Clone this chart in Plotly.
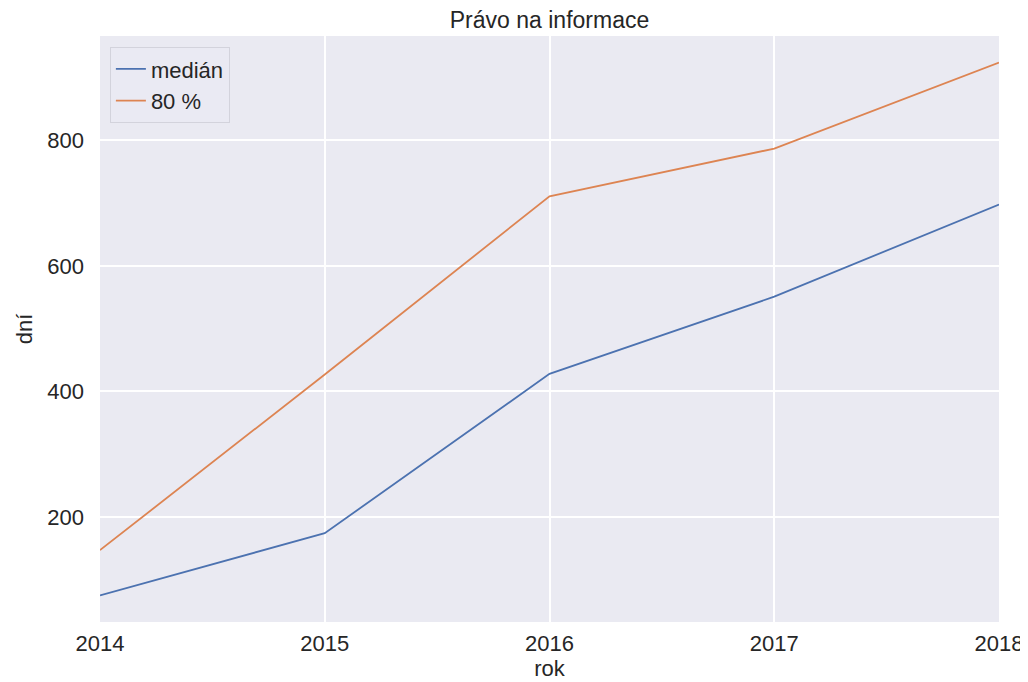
import plotly.graph_objects as go

years = [2014, 2015, 2016, 2017, 2018]
median = [75, 174, 428, 551, 698]
p80 = [147, 427, 711, 787, 924]
x_ticks = [2014, 2015, 2016, 2017, 2018]
y_ticks = [200, 400, 600, 800]

fig = go.Figure()
fig.add_trace(go.Scatter(x=years, y=median, mode="lines", name="medián", legendgroup="a",
                         line=dict(color="#4C72B0", width=1.8)))
fig.add_trace(go.Scatter(x=years, y=p80, mode="lines", name="80 %", legendgroup="b",
                         line=dict(color="#DD8452", width=1.8)))

font = dict(family="Liberation Sans, Arial, sans-serif", color="#262626")
W, H = 1028, 682  # page body adds an 8px offset
fig.update_layout(
    width=W, height=H,
    margin=dict(l=92, r=37, t=28, b=68, autoexpand=False),
    paper_bgcolor="white", plot_bgcolor="#EAEAF2",
    font=dict(size=22, **font),
    title=dict(text="Právo na informace", x=541.5 / W, xanchor="center",
               y=1 - 12 / H, yanchor="middle", pad=dict(t=0, b=0), font=dict(size=23, **font)),
    xaxis=dict(range=[2014, 2018], tickvals=x_ticks, ticktext=[str(v) for v in x_ticks],
               showgrid=True, gridcolor="white", gridwidth=1.5, zeroline=False,
               showline=False, ticks="", ticklabelstandoff=6,
               tickfont=dict(size=22, **font),
               title=dict(text="rok", font=dict(size=22, **font), standoff=3)),
    yaxis=dict(range=[32.5, 966.5], tickvals=y_ticks, ticktext=[str(v) for v in y_ticks],
               showgrid=True, gridcolor="white", gridwidth=1.5, zeroline=False,
               showline=False, ticks="", ticklabelstandoff=15,
               tickfont=dict(size=22, **font),
               title=dict(text="dní", font=dict(size=22, **font), standoff=8)),
    legend=dict(x=0.011, y=0.981, xanchor="left", yanchor="top",
                bgcolor="rgba(234,234,242,0.8)", bordercolor="#D3D3DC", borderwidth=1,
                font=dict(size=22, **font), tracegroupgap=0),
    showlegend=True,
)

fig.write_html("out.html")
